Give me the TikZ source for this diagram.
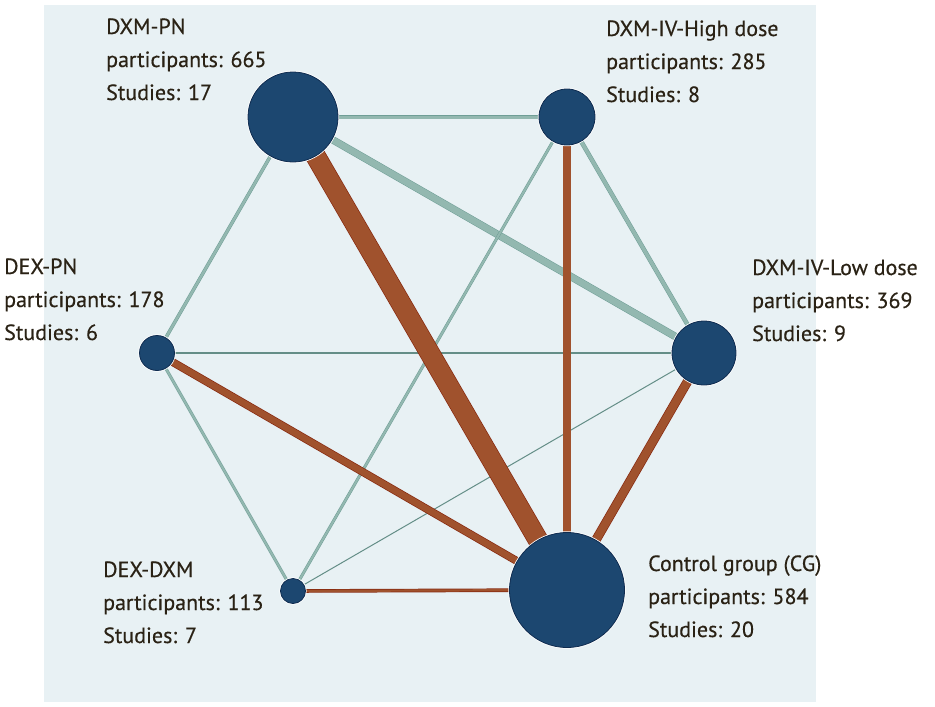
\documentclass[tikz,border=0pt]{standalone}
\usepackage{fontspec}
\setmainfont[FakeBold=0.5]{PT Sans}
\newfontfamily\lblfont[FakeBold=0.45]{PT Sans}
\usetikzlibrary{backgrounds}
\definecolor{bgc}{HTML}{E8F1F4}
\definecolor{nodefill}{HTML}{1C4770}
\definecolor{nodeline}{HTML}{0F2C50}
\definecolor{brownfill}{HTML}{A0522D}
\definecolor{brownline}{HTML}{87290F}
\definecolor{tealfill}{HTML}{93B8B0}
\definecolor{tealline}{HTML}{6F9E96}
\definecolor{txt}{HTML}{2A2215}
\pgfdeclarelayer{bglayer}
\pgfdeclarelayer{edgelayer}
\pgfsetlayers{bglayer,edgelayer,main}
\tikzset{
  net/.style={circle, fill=nodefill, draw=nodeline, line width=0.8pt, inner sep=0pt,
    preaction={draw=white, line width=2.4pt}},
  lbl/.style={anchor=base west, align=left, text=txt, inner sep=0pt,
    font=\lblfont\fontsize{22}{33}\selectfont},
  bedge/.style={draw=brownline, line width=0.7pt, double=brownfill, double distance=#1},
  tedge/.style={draw=tealline, line width=0.5pt, double=tealfill, double distance=#1},
  thin/.style={draw=tealline!90!black, line width=#1},
}
\begin{document}
\begin{tikzpicture}[x=1pt,y=-1pt]
\useasboundingbox (0,0) rectangle (935,707);
\begin{pgfonlayer}{bglayer}
\fill[bgc] (44,5) rectangle (816,702);
\end{pgfonlayer}
% nodes
\node[net, minimum size=90pt] (pn) at (293,117) {};
\node[net, minimum size=56pt] (high) at (567,117) {};
\node[net, minimum size=64pt] (low) at (704,353) {};
\node[net, minimum size=115pt] (cg) at (567,590) {};
\node[net, minimum size=25pt] (dxm) at (293,591) {};
\node[net, minimum size=35pt] (dex) at (157,353) {};
% labels (anchor = baseline of last line)
\node[lbl] (lpn) at (106,100) {DXM-PN\\participants: 665\\Studies: 17};
\node[lbl] (lhigh) at (606,102) {DXM-IV-High dose\\participants: 285\\Studies: 8};
\node[lbl] (llow) at (752,341) {DXM-IV-Low dose\\participants: 369\\Studies: 9};
\node[lbl] (ldex) at (4,340) {DEX-PN\\participants: 178\\Studies: 6};
\node[lbl] (ldxm) at (103,643) {DEX-DXM\\participants: 113\\Studies: 7};
\node[lbl] (lcg) at (648,637) {Control group (CG)\\participants: 584\\Studies: 20};
% edges
\begin{pgfonlayer}{edgelayer}
\draw[tedge=3] (pn.center) -- (high.center);
\draw[tedge=6.5] (pn.center) -- (low.center);
\draw[tedge=2.5] (pn.center) -- (dex.center);
\draw[tedge=3.5] (high.center) -- (low.center);
\draw[tedge=2] (high.center) -- (dxm.center);
\draw[tedge=2] (dex.center) -- (dxm.center);
\draw[thin=1.8pt] (dex.center) -- (low.center);
\draw[thin=1pt] (dxm.center) -- (low.center);
\draw[bedge=19] (pn.center) -- (cg.center);
\draw[bedge=7.5] (high.center) -- (cg.center);
\draw[bedge=8] (low.center) -- (cg.center);
\draw[bedge=6.5] (dex.center) -- (cg.center);
\draw[bedge=2.2] (dxm.center) -- (cg.center);
\end{pgfonlayer}
\end{tikzpicture}
\end{document}
